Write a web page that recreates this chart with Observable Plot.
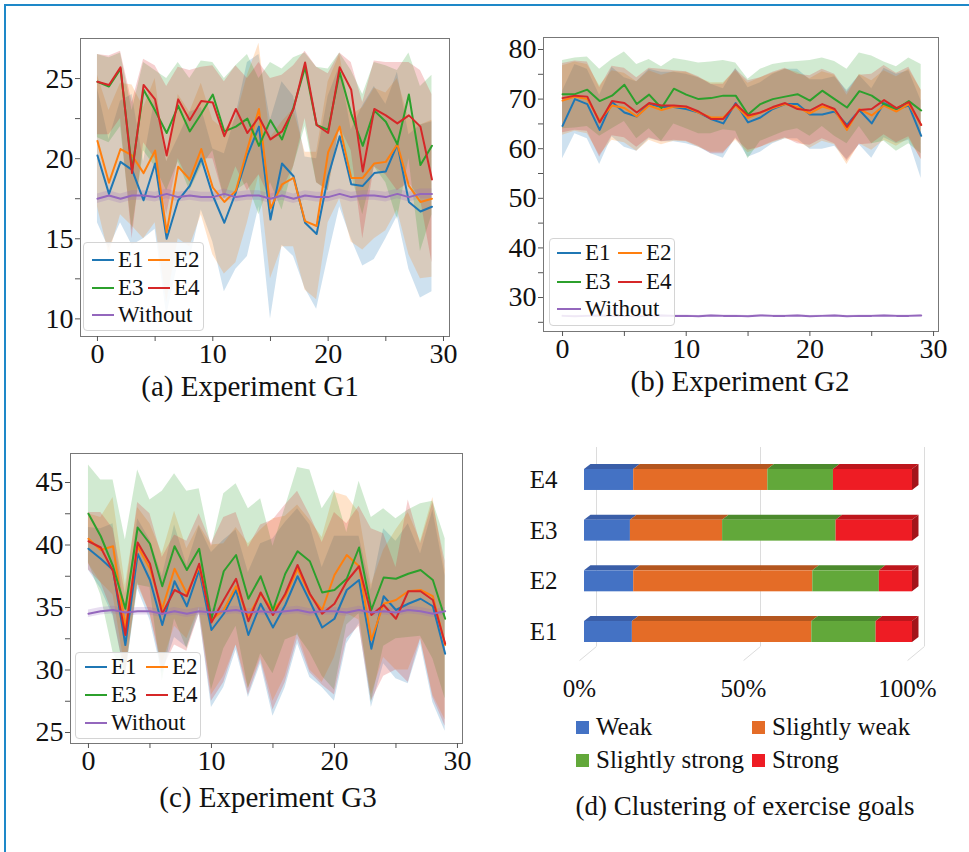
<!DOCTYPE html>
<html><head><meta charset="utf-8">
<script src="https://cdn.jsdelivr.net/npm/d3@7"></script>
<script src="https://cdn.jsdelivr.net/npm/@observablehq/plot@0.6"></script>
<style>
body{margin:0;background:#fff;}
#root{position:relative;width:969px;height:852px;overflow:hidden;font-family:"Liberation Serif","Times New Roman",serif;color:#111;background:#fff;}
.title{position:absolute;transform:translate(-50%,-50%);font-size:29px;white-space:nowrap;line-height:1;font-family:"Liberation Serif",serif;}
.leg{position:absolute;background:rgba(255,255,255,0.85);border:1px solid #d4d4d4;border-radius:4px;box-sizing:border-box;}
.legline{position:absolute;height:2px;}
.legtext{position:absolute;font-size:23px;line-height:1;transform:translateY(-52%);white-space:nowrap;font-family:"Liberation Serif",serif;}
.sq{position:absolute;width:13px;height:13px;}
.dtext{position:absolute;font-size:25px;line-height:1;transform:translateY(-52%);white-space:nowrap;font-family:"Liberation Serif",serif;}
</style></head><body><div id="root"></div>
<script>
// ---------- data ----------
const seriesNames = ["E1","E2","E3","E4","Without"];
const seriesColors = ["#1f77b4","#ff7f0e","#2ca02c","#d62728","#9467bd"];
const steps = d3.range(30);

// Experiment G1
const g1E1   = [20.2,17.8,19.8,19.3,17.4,19.7,15.0,17.4,18.3,20.0,17.7,16.0,17.9,20.2,22.0,16.2,19.7,18.9,16.0,15.3,18.9,21.4,18.4,18.3,19.1,19.2,20.9,17.3,16.7,17.0];
const g1E1lo = [16.0,14.4,16.0,14.6,15.0,15.6,10.2,13.5,13.7,16.8,14.8,11.7,13.1,13.9,17.0,10.0,14.6,13.9,11.9,10.6,13.9,17.0,15.0,13.3,13.7,15.0,16.4,13.1,11.3,11.7];
const g1E1hi = [24.4,21.2,23.6,24.0,19.8,23.8,19.8,21.3,22.9,23.2,20.6,20.3,22.7,26.0,26.5,22.4,24.8,23.9,20.1,20.0,23.9,25.8,21.8,23.3,24.5,23.4,25.4,21.5,22.1,22.3];
const g1E2   = [21.1,18.5,20.6,20.2,19.1,20.5,15.4,19.5,18.7,20.6,18.2,17.3,18.0,20.6,23.1,16.9,18.4,18.8,16.1,15.8,20.4,22.0,18.8,18.8,19.7,19.8,20.9,18.3,17.3,17.5];
const g1E2lo = [17.0,14.0,16.5,15.8,15.0,16.0,11.0,15.0,14.5,16.5,14.0,12.8,13.5,16.0,19.0,12.5,14.5,14.5,11.8,11.2,16.0,17.5,14.8,14.3,15.0,15.5,16.8,14.0,12.5,12.6];
const g1E2hi = [25.2,23.0,24.7,24.6,23.2,25.0,19.8,24.0,22.9,24.7,22.4,21.8,22.5,25.2,27.2,21.3,22.3,23.1,20.4,20.4,24.8,26.5,22.7,23.2,24.4,24.1,25.0,22.5,22.1,22.4];
const g1E3   = [24.8,24.5,25.6,19.3,24.3,23.0,21.6,23.3,21.7,22.8,24.0,21.7,22.0,22.5,20.8,22.4,21.2,23.2,25.7,22.1,21.8,25.4,22.8,20.8,23.0,22.3,20.9,24.0,19.6,20.8];
const g1E3lo = [21.3,21.0,22.0,15.5,20.5,19.5,18.0,19.8,18.0,19.5,20.5,17.5,18.0,18.5,16.5,18.5,16.8,19.5,22.0,18.5,18.0,22.0,19.0,16.5,19.5,18.5,16.2,20.0,14.2,16.5];
const g1E3hi = [26.5,26.3,26.6,23.0,26.0,25.5,25.0,26.0,25.0,26.1,26.0,25.0,25.8,26.5,25.0,26.0,25.6,26.3,26.6,25.7,25.6,26.6,25.5,24.0,26.0,25.8,25.5,26.6,24.5,25.2];
const g1E4   = [24.8,24.6,25.7,19.1,24.6,23.7,20.2,23.7,22.4,23.6,23.5,21.4,23.1,21.6,22.6,21.2,21.7,23.1,26.0,22.1,21.6,25.7,24.3,19.2,23.1,22.7,22.2,22.7,22.0,18.7];
const g1E4lo = [21.5,21.5,22.5,15.0,21.0,20.0,16.5,20.0,18.5,20.0,20.0,17.5,19.5,18.0,19.0,17.5,18.0,19.5,22.5,18.5,18.0,22.0,20.5,15.0,19.5,19.0,18.0,18.5,17.5,13.5];
const g1E4hi = [26.5,26.4,26.7,23.5,26.2,25.8,24.5,25.7,25.5,25.7,25.8,24.8,25.8,25.0,26.0,25.0,25.2,25.8,26.7,25.7,25.3,26.6,26.0,23.5,26.1,26.0,26.0,26.0,25.5,24.0];
const g1W    = [17.5,17.7,17.5,17.7,17.7,17.6,17.8,17.6,17.7,17.6,17.6,17.8,17.6,17.7,17.7,17.5,17.7,17.5,17.7,17.6,17.6,17.8,17.6,17.7,17.7,17.6,17.8,17.6,17.8,17.8];
const g1Wlo  = [17.2,17.4,17.2,17.4,17.4,17.3,17.5,17.3,17.4,17.3,17.3,17.5,17.3,17.4,17.4,17.2,17.4,17.2,17.4,17.3,17.3,17.5,17.3,17.4,17.4,17.3,17.5,17.3,17.5,17.5];
const g1Whi  = [17.8,18.0,17.8,18.0,18.0,17.9,18.1,17.9,18.0,17.9,17.9,18.1,17.9,18.0,18.0,17.8,18.0,17.8,18.0,17.9,17.9,18.1,17.9,18.0,18.0,17.9,18.1,17.9,18.1,18.1];

// Experiment G2
const g2E1   = [64.6,70.0,69.0,63.8,69.4,67.3,66.5,69.0,68.4,68.4,68.0,67.3,66.0,65.1,69.2,65.3,66.3,68.0,69.0,69.0,66.9,66.9,67.5,64.8,67.8,65.1,69.2,68.0,68.7,62.6];
const g2E1lo = [58.0,63.0,62.0,56.8,62.4,60.3,59.5,62.0,61.4,61.4,61.0,60.3,59.0,58.1,62.2,58.3,59.3,61.0,62.0,62.0,59.9,59.9,60.5,57.8,60.8,58.1,62.2,61.0,61.7,54.0];
const g2E1hi = [71.6,77.0,76.0,70.8,76.4,74.3,73.5,76.0,75.4,75.4,75.0,74.3,73.0,72.1,76.2,72.3,73.3,75.0,76.0,76.0,73.9,73.9,74.5,71.8,74.8,72.1,76.2,75.0,75.7,69.6];
const g2E2   = [69.7,70.5,70.0,65.7,68.7,68.2,66.5,68.7,67.8,68.5,68.4,67.3,66.3,66.3,68.7,66.2,67.3,68.2,69.0,68.4,67.1,68.5,67.8,63.8,68.0,66.7,68.7,67.5,69.0,64.8];
const g2E2lo = [62.7,63.5,63.0,58.7,61.7,61.2,59.5,61.7,60.8,61.5,61.4,60.3,59.3,59.3,61.7,59.2,60.3,61.2,62.0,61.4,60.1,61.5,60.8,56.8,61.0,59.7,61.7,60.5,62.0,57.8];
const g2E2hi = [76.7,77.5,77.0,72.7,75.7,75.2,73.5,75.7,74.8,75.5,75.4,74.3,73.3,73.3,75.7,73.2,74.3,75.2,76.0,75.4,74.1,75.5,74.8,70.8,75.0,73.7,75.7,74.5,76.0,71.8];
const g2E3   = [71.0,71.0,71.9,69.6,70.7,72.9,69.0,70.9,68.2,72.1,70.9,70.0,70.2,70.7,70.7,66.9,69.0,70.0,70.5,71.0,69.7,71.7,70.0,68.3,71.6,70.7,69.0,68.0,69.6,67.7];
const g2E3lo = [64.0,64.2,64.5,62.5,64.0,65.5,62.0,64.0,61.5,65.0,64.0,63.0,63.0,63.8,63.5,58.0,61.5,62.5,63.5,64.0,62.5,64.5,62.5,61.0,64.5,61.0,61.5,59.5,61.0,59.0];
const g2E3hi = [77.8,78.3,78.5,76.0,78.0,79.5,77.0,78.0,76.5,78.2,77.8,77.3,77.5,77.8,77.3,74.0,76.0,77.0,77.4,77.6,77.8,78.3,77.6,76.0,79.3,78.7,77.5,76.5,78.3,77.0];
const g2E4   = [70.2,70.7,70.5,65.3,69.6,69.2,67.3,69.2,68.7,68.7,68.5,67.5,66.0,66.0,69.0,66.7,67.3,68.4,69.2,68.0,67.7,69.0,68.0,64.4,67.8,68.0,69.8,68.2,69.4,64.8];
const g2E4lo = [63.2,63.7,63.5,58.3,62.6,62.2,60.3,62.2,61.4,61.7,61.5,60.5,59.0,59.0,62.0,59.7,60.3,61.4,62.2,61.0,60.7,62.0,61.0,57.4,60.8,61.0,62.8,61.2,62.4,57.8];
const g2E4hi = [77.2,77.7,77.5,72.3,76.6,76.2,74.3,76.2,76.0,75.7,75.5,74.5,73.0,73.0,76.0,73.7,74.3,75.4,76.2,75.0,74.7,76.0,75.0,71.4,74.8,75.0,76.8,75.2,76.4,71.8];
const g2W    = [26.3,26.2,26.3,26.4,26.3,26.3,26.2,26.3,26.4,26.3,26.3,26.2,26.4,26.3,26.3,26.2,26.4,26.3,26.3,26.4,26.2,26.3,26.4,26.2,26.3,26.3,26.4,26.3,26.3,26.4];
const g2Wlo  = [26.1,26.0,26.1,26.2,26.1,26.1,26.0,26.1,26.2,26.1,26.1,26.0,26.2,26.1,26.1,26.0,26.2,26.1,26.1,26.2,26.0,26.1,26.2,26.0,26.1,26.1,26.2,26.1,26.1,26.2];
const g2Whi  = [26.5,26.4,26.5,26.6,26.5,26.5,26.4,26.5,26.6,26.5,26.5,26.4,26.6,26.5,26.5,26.4,26.6,26.5,26.5,26.6,26.4,26.5,26.6,26.4,26.5,26.5,26.6,26.5,26.5,26.6];

// Experiment G3
const g3E1   = [39.7,38.9,38.0,32.0,39.3,37.2,33.6,37.1,35.1,38.0,33.2,34.5,36.4,32.8,35.3,33.4,35.2,37.5,35.5,33.4,34.1,36.4,37.2,31.7,35.9,34.8,35.3,35.7,35.1,31.3];
const g3E1lo = [38.0,36.5,34.3,29.5,36.5,34.0,29.7,32.6,31.8,34.5,27.0,28.6,31.6,27.8,30.5,26.3,28.6,32.1,29.4,28.6,27.5,32.1,33.7,27.0,30.5,29.3,28.9,32.1,27.4,25.1];
const g3E1hi = [41.4,41.3,41.7,34.5,42.1,40.4,37.5,41.6,38.4,41.5,39.4,40.4,41.2,37.8,40.1,40.5,41.8,42.9,41.6,38.2,40.7,40.7,40.7,36.4,41.3,40.3,41.7,39.3,42.8,37.5];
const g3E2   = [40.5,39.6,39.9,33.4,39.9,38.1,34.9,38.1,36.1,38.3,34.0,34.8,36.7,34.3,36.1,34.8,35.9,38.1,36.0,34.8,37.6,39.2,38.3,32.4,35.3,35.6,36.3,36.4,35.9,32.0];
const g3E2lo = [38.5,37.0,36.0,30.0,36.8,34.5,30.5,33.5,32.5,35.0,28.0,29.5,32.0,28.5,31.0,27.5,29.5,33.0,30.0,29.0,31.0,34.5,34.0,28.0,31.0,30.0,30.0,32.5,28.0,26.0];
const g3E2hi = [42.5,42.2,43.8,36.8,43.0,41.7,39.3,42.7,39.7,41.6,40.0,40.1,41.4,40.1,41.2,42.1,42.3,43.2,42.0,40.6,44.2,43.9,42.6,36.8,39.6,41.2,42.6,40.3,43.8,38.0];
const g3E3   = [42.5,40.7,38.3,34.9,41.4,40.1,36.7,39.9,38.0,39.7,34.1,37.9,39.2,35.7,37.5,34.8,37.7,39.5,38.7,36.2,36.4,37.3,39.8,34.8,37.4,37.3,37.7,38.0,37.2,34.1];
const g3E3lo = [38.6,36.0,31.4,29.4,36.8,36.6,29.1,34.1,31.7,34.9,28.4,31.7,33.5,28.5,31.3,29.7,32.4,32.8,31.4,29.5,28.4,33.6,34.5,27.4,31.9,32.5,32.6,32.7,30.9,27.7];
const g3E3hi = [46.4,45.2,45.2,40.4,46.0,43.6,44.3,45.7,44.3,44.5,39.8,44.1,44.9,42.9,43.7,39.9,43.0,46.2,46.0,42.9,44.4,41.0,45.1,42.2,42.9,42.1,42.8,43.3,43.5,40.5];
const g3E4   = [40.3,39.8,37.9,32.8,40.2,38.5,34.5,36.4,35.9,38.5,33.8,35.6,37.3,33.9,36.2,34.4,36.1,38.4,36.1,34.5,35.3,37.1,38.3,34.4,35.2,34.1,36.3,36.3,35.6,32.1];
const g3E4lo = [38.0,37.0,34.5,29.5,37.0,34.5,30.0,32.0,31.5,34.5,27.5,29.0,32.0,28.0,30.8,26.8,29.0,32.5,29.8,28.8,28.0,32.5,33.5,27.5,29.5,30.0,29.0,32.5,27.8,25.5];
const g3E4hi = [42.6,42.6,41.3,36.1,43.4,42.5,39.0,40.8,40.3,42.5,40.1,42.2,42.6,39.8,41.6,42.0,43.2,44.3,42.4,40.2,42.6,41.7,43.1,41.3,40.9,38.2,43.6,40.1,43.4,38.7];
const g3W    = [34.5,34.7,34.8,34.6,34.7,34.7,34.5,34.7,34.5,34.7,34.6,34.7,34.8,34.6,34.7,34.6,34.7,34.8,34.6,34.7,34.7,34.6,34.8,34.6,34.7,34.6,34.8,34.7,34.5,34.7];
const g3Wlo  = [34.2,34.4,34.5,34.3,34.4,34.4,34.2,34.4,34.2,34.4,34.3,34.4,34.5,34.3,34.4,34.3,34.4,34.5,34.3,34.4,34.4,34.3,34.5,34.3,34.4,34.3,34.5,34.4,34.2,34.4];
const g3Whi  = [34.8,35.0,35.1,34.9,35.0,35.0,34.8,35.0,34.8,35.0,34.9,35.0,35.1,34.9,35.0,34.9,35.0,35.1,34.9,35.0,35.0,34.9,35.1,34.9,35.0,34.9,35.1,35.0,34.8,35.0];

// Clustering of exercise goals (percent of each group), order E1..E4
const goalGroups = ["E1","E2","E3","E4"];
const goalLevels = ["Weak","Slightly weak","Slightly strong","Strong"];
const goalWeak           = [14.6, 15.0, 14.0, 15.0];
const goalSlightlyWeak   = [54.7, 54.6, 28.1, 40.9];
const goalSlightlyStrong = [19.6, 20.3, 34.6, 20.0];
const goalStrong         = [11.1, 10.1, 23.3, 24.1];
const goalFront = ["#4472c4","#e46c27","#62a83a","#ee1c24"];
const goalTop   = ["#3a5ea8","#b4561f","#4c8a2d","#bd161c"];
const goalSide  = "#a3141a";
const pctTicks = [0, 50, 100];

// ---------- helpers ----------
const FONT = "Liberation Serif";
const root = document.getElementById("root");
function place(el, left, top) {
  el.style.position = "absolute"; el.style.left = left + "px"; el.style.top = top + "px";
  el.style.maxWidth = "none"; root.appendChild(el); return el;
}
function rows(m, lo, hi) { return steps.map(i => ({i, m: m[i], lo: lo[i], hi: hi[i]})); }

function linePanel(cfg) {
  const sets = cfg.sets;
  const marks = [];
  sets.forEach((s, k) => marks.push(Plot.areaY(s, {x: "i", y1: "lo", y2: "hi", fill: seriesColors[k], fillOpacity: 0.22})));
  sets.forEach((s, k) => marks.push(Plot.lineY(s, {x: "i", y: "m", stroke: seriesColors[k], strokeWidth: 2})));
  marks.push(Plot.frame({stroke: "#777", strokeWidth: 1}));
  marks.push(Plot.axisX({ticks: [0,5,10,15,20,25,30], tickFormat: d => d % 10 === 0 ? String(d) : "", tickSize: 5, tickPadding: 2, fontSize: 28, fontFamily: FONT, stroke: "#555", label: null}));
  marks.push(Plot.axisY({ticks: cfg.yTicks, tickFormat: d => cfg.yLabels.includes(d) ? String(d) : "", tickSize: 5, tickPadding: 2, fontSize: 28, fontFamily: FONT, stroke: "#555", label: null}));
  const svg = Plot.plot({
    width: cfg.width, height: cfg.height,
    marginLeft: cfg.ml, marginRight: cfg.mr, marginTop: cfg.mt, marginBottom: cfg.mb,
    x: {domain: cfg.xDomain}, y: {domain: cfg.yDomain},
    style: {background: "transparent", fontFamily: "'Liberation Serif', serif", color: "#111", overflow: "visible"},
    marks
  });
  place(svg, cfg.left, cfg.top);
}

function legendBox(b) {
  const box = document.createElement("div");
  box.className = "leg";
  Object.assign(box.style, {left: b.x + "px", top: b.y + "px", width: b.w + "px", height: b.h + "px"});
  root.appendChild(box);
  const entries = [[0, 0, 0], [1, 1, 0], [2, 0, 1], [3, 1, 1], [4, 0, 2]];
  entries.forEach(([k, col, row]) => {
    const l = document.createElement("div");
    l.className = "legline";
    const lx = col ? b.l2 : b.l1;
    Object.assign(l.style, {left: lx + "px", top: (b.rows[row] - 1) + "px", width: b.lw + "px", background: seriesColors[k]});
    root.appendChild(l);
    const t = document.createElement("div");
    t.className = "legtext";
    t.textContent = seriesNames[k];
    Object.assign(t.style, {left: (lx + b.lw + b.gap) + "px", top: b.rows[row] + "px"});
    root.appendChild(t);
  });
}

function title(text, cx, cy, size) {
  const t = document.createElement("div");
  t.className = "title"; t.textContent = text;
  t.style.left = cx + "px"; t.style.top = cy + "px";
  if (size) t.style.fontSize = size + "px";
  root.appendChild(t);
}

// ---------- frame border ----------
const border = document.createElement("div");
Object.assign(border.style, {position: "absolute", left: "4px", top: "4px", width: "980px", height: "860px", borderTop: "2px solid #1e88c8", borderLeft: "2px solid #1e88c8"});
root.appendChild(border);

// ---------- panel (a) ----------
linePanel({
  left: 0, top: 30, width: 480, height: 345, ml: 80, mr: 31, mt: 8, mb: 39,
  xDomain: [-1.47, 30.52], yDomain: [8.9, 27.5],
  yTicks: [10,12.5,15,17.5,20,22.5,25], yLabels: [10,15,20,25],
  sets: [rows(g1E1,g1E1lo,g1E1hi), rows(g1E2,g1E2lo,g1E2hi), rows(g1E3,g1E3lo,g1E3hi), rows(g1E4,g1E4lo,g1E4hi), rows(g1W,g1Wlo,g1Whi)]
});
legendBox({x: 83, y: 242, w: 121, h: 89, l1: 92, l2: 148, lw: 22, gap: 4, rows: [260, 288, 315]});
title("(a) Experiment G1", 250, 386);

// ---------- panel (b) ----------
linePanel({
  left: 490, top: 30, width: 479, height: 345, ml: 53, mr: 31, mt: 7, mb: 44,
  xDomain: [-1.54, 30.40], yDomain: [23.15, 82.42],
  yTicks: [25,30,35,40,45,50,55,60,65,70,75,80], yLabels: [30,40,50,60,70,80],
  sets: [rows(g2E1,g2E1lo,g2E1hi), rows(g2E2,g2E2lo,g2E2hi), rows(g2E3,g2E3lo,g2E3hi), rows(g2E4,g2E4lo,g2E4hi), rows(g2W,g2Wlo,g2Whi)]
});
legendBox({x: 549, y: 238, w: 126, h: 88, l1: 557, l2: 618, lw: 24, gap: 4, rows: [253, 282, 309]});
title("(b) Experiment G2", 740, 381);

// ---------- panel (c) ----------
linePanel({
  left: 0, top: 440, width: 480, height: 340, ml: 70, mr: 18, mt: 13, mb: 37,
  xDomain: [-1.46, 30.41], yDomain: [24.12, 47.32],
  yTicks: [25,27.5,30,32.5,35,37.5,40,42.5,45], yLabels: [25,30,35,40,45],
  sets: [rows(g3E1,g3E1lo,g3E1hi), rows(g3E2,g3E2lo,g3E2hi), rows(g3E3,g3E3lo,g3E3hi), rows(g3E4,g3E4lo,g3E4hi), rows(g3W,g3Wlo,g3Whi)]
});
legendBox({x: 75, y: 652, w: 126, h: 87, l1: 85, l2: 146, lw: 22, gap: 4, rows: [667, 695, 723]});
title("(c) Experiment G3", 268, 797);

// ---------- panel (d) ----------
(function() {
  const vals = [goalWeak, goalSlightlyWeak, goalSlightlyStrong, goalStrong];
  const halfH = 0.207, dX = 1.98, dY = 0.099, backX = 3.66;
  const segs = [];
  goalGroups.forEach((g, gi) => {
    let cum = 0;
    vals.forEach((arr, li) => {
      segs.push({key: g + li, k: gi + 1, a: cum, b: cum + arr[gi], front: goalFront[li], top: goalTop[li]});
      cum += arr[gi];
    });
  });
  const tops = segs.flatMap(s => [
    {key: s.key, y: s.k + halfH, x1: s.a, x2: s.b, fill: s.top},
    {key: s.key, y: s.k + halfH + dY, x1: s.a + dX, x2: s.b + dX, fill: s.top}
  ]);
  const sides = goalGroups.flatMap((g, gi) => [
    {key: g, x: 100, y1: gi + 1 - halfH, y2: gi + 1 + halfH},
    {key: g, x: 100 + dX, y1: gi + 1 - halfH + dY, y2: gi + 1 + halfH + dY}
  ]);
  const svg = Plot.plot({
    width: 479, height: 270, marginLeft: 94, marginRight: 57, marginTop: 0, marginBottom: 0,
    x: {domain: [0, 100]}, y: {domain: [-0.549, 4.779]},
    style: {background: "transparent", fontFamily: "'Liberation Serif', serif", color: "#111", overflow: "visible"},
    marks: [
      Plot.ruleX(pctTicks, {x: d => d + backX, y1: 0.714, y2: 4.64, stroke: "#dcdcdc", strokeWidth: 1}),
      Plot.link(pctTicks, {x1: d => d - 1.5, y1: 0.4375, x2: d => d + backX, y2: 0.714, stroke: "#dcdcdc", strokeWidth: 1}),
      Plot.areaX(tops, {y: "y", x1: "x1", x2: "x2", z: "key", fill: "fill"}),
      Plot.areaY(sides, {x: "x", y1: "y1", y2: "y2", z: "key", fill: goalSide}),
      Plot.rect(segs, {x1: "a", x2: "b", y1: d => d.k - halfH, y2: d => d.k + halfH, fill: "front"}),
      Plot.axisY({ticks: [1,2,3,4], tickFormat: d => goalGroups[d - 1], tickSize: 0, tickPadding: 27, fontSize: 25, fontFamily: FONT, label: null}),
      Plot.axisX({ticks: pctTicks, tickFormat: d => d + "%", tickSize: 0, tickPadding: 0, dy: -31, dx: -5, fontSize: 25, fontFamily: FONT, label: null})
    ]
  });
  place(svg, 490, 440);
  const legendItems = [[0, 576, 727], [1, 752, 727], [2, 576, 760], [3, 752, 760]];
  legendItems.forEach(([li, x, cy]) => {
    const s = document.createElement("div"); s.className = "sq";
    Object.assign(s.style, {left: x + "px", top: (cy - 6) + "px", background: goalFront[li]});
    root.appendChild(s);
    const t = document.createElement("div"); t.className = "dtext"; t.textContent = goalLevels[li];
    Object.assign(t.style, {left: (x + 20) + "px", top: cy + "px"});
    root.appendChild(t);
  });
})();
title("(d) Clustering of exercise goals", 745, 806, 27);
</script></body></html>
